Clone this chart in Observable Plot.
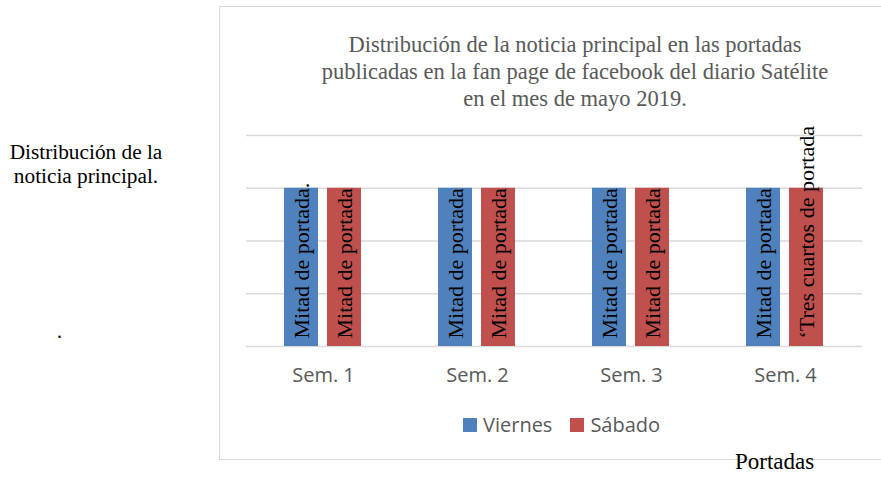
<!DOCTYPE html>
<html>
<head>
<meta charset="utf-8">
<script src="https://cdn.jsdelivr.net/npm/d3@7"></script>
<script src="https://cdn.jsdelivr.net/npm/@observablehq/plot@0.6"></script>
<style>
  html, body { margin: 0; padding: 0; background: #fff; overflow: hidden; }
  #wrap { position: relative; width: 881px; height: 477px; overflow: hidden; }
  #wrap svg { position: absolute; left: 0; top: 0; }
  .frame { position: absolute; left: 219px; top: 6px; width: 680px; height: 452px; border: 1.5px solid #d9d9d9; }
  .title { position: absolute; left: 300px; width: 550px; top: 31px; text-align: center;
           font-family: "Liberation Serif", serif; font-size: 22.5px; line-height: 27px; color: #595959; }
  .side { position: absolute; left: 0; width: 172px; top: 140px; text-align: center;
          font-family: "Liberation Serif", serif; font-size: 21.3px; line-height: 24px; color: #000; }
  .dot { position: absolute; left: 57px; top: 320px; font-family: "Liberation Serif", serif; font-size: 20px; color: #000; }
  .xlab { position: absolute; left: 735px; top: 449px; font-family: "Liberation Serif", serif; font-size: 23px; color: #000; }
  .legend { position: absolute; top: 411px; left: 463px; display: flex; align-items: center;
            font-family: "Open Sans", sans-serif; font-size: 20px; color: #595959; }
  .legend .sw { display: inline-block; width: 14px; height: 14px; margin-right: 6px; }
  .legend .item { display: flex; align-items: center; margin-right: 18px; }
</style>
</head>
<body>
<div id="wrap"></div>
<script>
// ---- data ----
const semanas = ["Sem. 1", "Sem. 2", "Sem. 3", "Sem. 4"];
const dias = ["Viernes", "Sábado"];
const colores = ["#4f81bd", "#c0504d"];
const valoresViernes = [3, 3, 3, 3];
const valoresSabado = [3, 3, 3, 3];
const etiquetasViernes = ["Mitad de portada.", "Mitad de portada", "Mitad de portada", "Mitad de portada"];
const etiquetasSabado = ["Mitad de portada", "Mitad de portada", "Mitad de portada", "\u2018Tres cuartos de portada"];
const yTicks = [0, 1, 2, 3, 4];
const titulo = ["Distribución de la noticia principal en las portadas",
                "publicadas en la fan page de facebook del diario Satélite",
                "en el mes de mayo 2019."];
const textoLateral = ["Distribución de la", "noticia principal."];
const tituloX = "Portadas";

const rows = [];
semanas.forEach((s, i) => {
  rows.push({semana: s, dia: dias[0], valor: valoresViernes[i], etiqueta: etiquetasViernes[i]});
  rows.push({semana: s, dia: dias[1], valor: valoresSabado[i], etiqueta: etiquetasSabado[i]});
});

const chart = Plot.plot({
  width: 881,
  height: 477,
  marginLeft: 245,
  marginRight: 18,
  marginTop: 135,
  marginBottom: 131,
  style: {fontFamily: "Open Sans, sans-serif", fontSize: "20px", color: "#595959", background: "transparent", overflow: "visible"},
  facet: {data: rows, x: "semana"},
  fx: {domain: semanas, padding: 0, axis: "bottom", tickSize: 0, tickPadding: 21, label: null},
  x: {domain: dias, axis: null, paddingInner: 0.2045, paddingOuter: 0.858},
  y: {domain: [0, 4], axis: null},
  color: {domain: dias, range: colores},
  marks: [
    Plot.ruleY(yTicks, {stroke: "#d9d9d9", strokeWidth: 1.3}),
    Plot.barY(rows, {x: "dia", y: "valor", fill: "dia"}),
    Plot.text(rows, {x: "dia", y: 0, text: "etiqueta", rotate: -90, textAnchor: "start", lineAnchor: "middle",
                     dy: -8, fill: "black", fontFamily: "Liberation Serif, serif", fontSize: 22})
  ]
});

const wrap = document.getElementById("wrap");
wrap.appendChild(chart);

const frame = document.createElement("div"); frame.className = "frame"; wrap.insertBefore(frame, chart);

const t = document.createElement("div"); t.className = "title";
t.innerHTML = titulo.map(l => `<div>${l}</div>`).join("");
wrap.appendChild(t);

const side = document.createElement("div"); side.className = "side";
side.innerHTML = textoLateral.map(l => `<div>${l}</div>`).join("");
wrap.appendChild(side);

const dot = document.createElement("div"); dot.className = "dot"; dot.textContent = ".";
wrap.appendChild(dot);

const xl = document.createElement("div"); xl.className = "xlab"; xl.textContent = tituloX;
wrap.appendChild(xl);

const lg = document.createElement("div"); lg.className = "legend";
const cs = chart.scale("color");
lg.innerHTML = cs.domain.map((d, i) => `<span class="item"><span class="sw" style="background:${cs.range[i]}"></span>${d}</span>`).join("");
wrap.appendChild(lg);
</script>
</body>
</html>
